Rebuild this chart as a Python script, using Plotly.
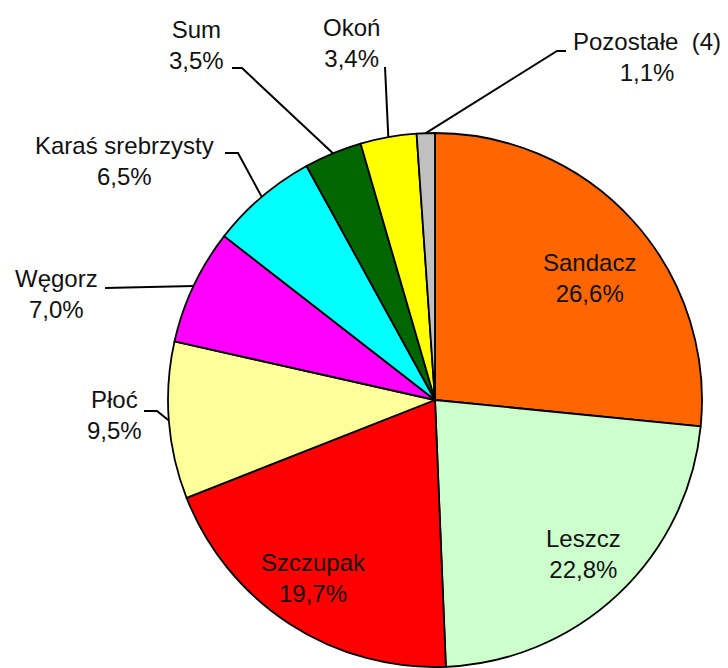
import math
import plotly.graph_objects as go

# ---- data ----
species = ["Sandacz", "Leszcz", "Szczupak", "Płoć", "Węgorz",
           "Karaś srebrzysty", "Sum", "Okoń", "Pozostałe\u00a0 (4)"]
shares = [26.6, 22.8, 19.7, 9.5, 7.0, 6.5, 3.5, 3.4, 1.1]
colors = ["#FF6600", "#CCFFCC", "#FF0000", "#FFFF99", "#FF00FF",
          "#00FFFF", "#006600", "#FFFF00", "#C0C0C0"]

# ---- layout constants (page pixels) ----
OFF = 8                      # default page body margin
W, H = 728 - OFF, 668 - OFF  # figure size
CX, CY, R = 435, 400, 267

# label block centres (px) and leader line elbows/ends (px)
label_pos = {
    "Sandacz": (589, 278), "Leszcz": (583, 554), "Szczupak": (313, 578),
    "Płoć": (114, 415), "Węgorz": (57, 294), "Karaś srebrzysty": (124, 161),
    "Sum": (196, 45), "Okoń": (351, 43), "Pozostałe\u00a0 (4)": (647, 57),
}
leader = {
    "Płoć": [(157, 411), (144, 411)],
    "Węgorz": [(105, 288)],
    "Karaś srebrzysty": [(238, 153), (225, 153)],
    "Sum": [(242, 68), (232, 68)],
    "Okoń": [(385, 67)],
    "Pozostałe\u00a0 (4)": [(557, 51), (566, 51)],
}


def px(x):
    return (x - OFF) / W


def py(y):
    return 1 - (y - OFF) / H


fig = go.Figure(go.Pie(
    labels=species, values=shares, sort=False, direction="clockwise",
    rotation=0, textinfo="none", hoverinfo="label+percent",
    marker=dict(colors=colors, line=dict(color="black", width=1.8)),
    domain=dict(x=[px(CX - R), px(CX + R)], y=[max(0, py(CY + R)), py(CY - R)]),
    showlegend=False,
))

font = dict(family="Liberation Sans, Arial, sans-serif", size=24, color="#111111")
annotations = []
shapes = []
total = sum(shares)
cum = 0.0
for name, v in zip(species, shares):
    theta = math.radians((cum + v / 2) / total * 360)
    cum += v
    lx, ly = label_pos[name]
    txt = f"{name}<br>{v:.1f}%".replace(".", ",")
    annotations.append(dict(x=px(lx), y=py(ly), xref="paper", yref="paper",
                            text=txt, showarrow=False, font=font,
                            xanchor="center", yanchor="middle", align="center"))
    if name in leader:
        sx = CX + R * math.sin(theta)
        sy = CY - R * math.cos(theta)
        pts = [(sx, sy)] + leader[name]
        path = "M " + " L ".join(f"{px(a):.5f},{py(b):.5f}" for a, b in pts)
        shapes.append(dict(type="path", path=path, xref="paper", yref="paper",
                           line=dict(color="black", width=2)))

fig.update_layout(width=W, height=H, margin=dict(l=0, r=0, t=0, b=0),
                  paper_bgcolor="white", plot_bgcolor="white",
                  annotations=annotations, shapes=shapes)
fig.write_html("out.html")
